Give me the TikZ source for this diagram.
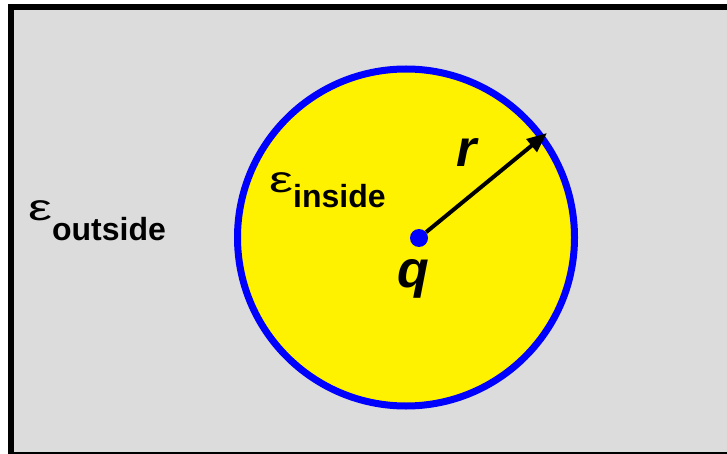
\documentclass[tikz,border=0pt]{standalone}
\usepackage{graphicx}
\usepackage{fontspec}
\setmainfont{Liberation Sans}
\usetikzlibrary{arrows.meta}
\definecolor{medium}{RGB}{220,220,220}
\newcommand{\epslabel}[2]{\scalebox{1.45}[1]{ε}\raisebox{-#2pt}{\fontsize{32}{32}\selectfont\bfseries #1}}

\begin{document}
\begin{tikzpicture}[x=1pt,y=-1pt,
  eps/.style={anchor=base west,inner sep=0pt,font=\fontsize{37}{37}\selectfont},
  sym/.style={anchor=base,inner sep=0pt,font=\fontsize{52}{52}\selectfont\bfseries\itshape},
  arr/.style={-{Triangle[length=20pt,width=16pt]},line width=4pt}]
\useasboundingbox (0,0) rectangle (727,454);
\clip (0,0) rectangle (727,454);
\draw[line width=6pt,fill=medium] (11,7) rectangle (745,455);
\node[circle,draw=blue,line width=7pt,fill=yellow,minimum size=337pt,inner sep=0pt] (sphere) at (406,237.5) {};
\node[circle,fill=blue,minimum size=18pt,inner sep=0pt] (charge) at (419,238) {};
\coordinate (rim) at (547,133);
\draw[arr] (charge) -- (rim);
\node[sym] (rlabel) at (467,167) {r};
\node[sym] (qlabel) at (413,287) {q};
\node[eps] (outside) at (28,221) {\epslabel{outside}{20}};
\node[eps] (inside) at (269,193) {\epslabel{inside}{15}};
\end{tikzpicture}
\end{document}
